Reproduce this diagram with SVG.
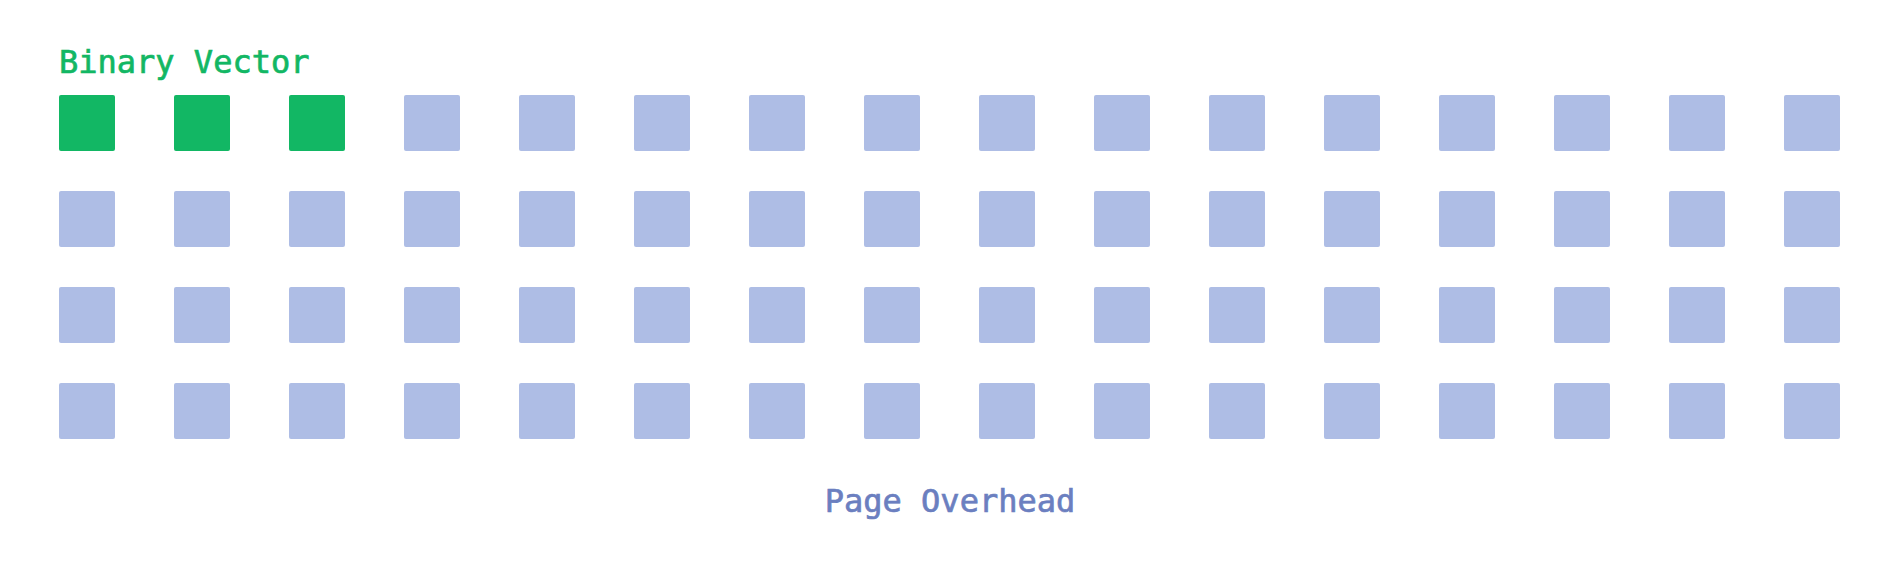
<svg xmlns="http://www.w3.org/2000/svg" width="1899" height="573" viewBox="0 0 1899 573">
<defs>
<style>
.lbl{font-family:"DejaVu Sans Mono","Liberation Mono",monospace;font-size:32px;stroke-width:0.7px}
.g{fill:#12b764}
.b{fill:#aebde5}
</style>
<rect id="sq" width="56" height="56" rx="2"/>
</defs>
<rect width="1899" height="573" fill="#ffffff"/>
<g id="title"><text class="lbl" x="59" y="73" fill="#12b764" stroke="#12b764">Binary Vector</text></g>
<g id="row1">
<use href="#sq" class="g" x="59" y="95"/><use href="#sq" class="g" x="174" y="95"/><use href="#sq" class="g" x="289" y="95"/>
<use href="#sq" class="b" x="404" y="95"/><use href="#sq" class="b" x="519" y="95"/><use href="#sq" class="b" x="634" y="95"/><use href="#sq" class="b" x="749" y="95"/><use href="#sq" class="b" x="864" y="95"/><use href="#sq" class="b" x="979" y="95"/><use href="#sq" class="b" x="1094" y="95"/><use href="#sq" class="b" x="1209" y="95"/><use href="#sq" class="b" x="1324" y="95"/><use href="#sq" class="b" x="1439" y="95"/><use href="#sq" class="b" x="1554" y="95"/><use href="#sq" class="b" x="1669" y="95"/><use href="#sq" class="b" x="1784" y="95"/>
</g>
<g id="row2">
<use href="#sq" class="b" x="59" y="191"/><use href="#sq" class="b" x="174" y="191"/><use href="#sq" class="b" x="289" y="191"/><use href="#sq" class="b" x="404" y="191"/><use href="#sq" class="b" x="519" y="191"/><use href="#sq" class="b" x="634" y="191"/><use href="#sq" class="b" x="749" y="191"/><use href="#sq" class="b" x="864" y="191"/><use href="#sq" class="b" x="979" y="191"/><use href="#sq" class="b" x="1094" y="191"/><use href="#sq" class="b" x="1209" y="191"/><use href="#sq" class="b" x="1324" y="191"/><use href="#sq" class="b" x="1439" y="191"/><use href="#sq" class="b" x="1554" y="191"/><use href="#sq" class="b" x="1669" y="191"/><use href="#sq" class="b" x="1784" y="191"/>
</g>
<g id="row3">
<use href="#sq" class="b" x="59" y="287"/><use href="#sq" class="b" x="174" y="287"/><use href="#sq" class="b" x="289" y="287"/><use href="#sq" class="b" x="404" y="287"/><use href="#sq" class="b" x="519" y="287"/><use href="#sq" class="b" x="634" y="287"/><use href="#sq" class="b" x="749" y="287"/><use href="#sq" class="b" x="864" y="287"/><use href="#sq" class="b" x="979" y="287"/><use href="#sq" class="b" x="1094" y="287"/><use href="#sq" class="b" x="1209" y="287"/><use href="#sq" class="b" x="1324" y="287"/><use href="#sq" class="b" x="1439" y="287"/><use href="#sq" class="b" x="1554" y="287"/><use href="#sq" class="b" x="1669" y="287"/><use href="#sq" class="b" x="1784" y="287"/>
</g>
<g id="row4">
<use href="#sq" class="b" x="59" y="383"/><use href="#sq" class="b" x="174" y="383"/><use href="#sq" class="b" x="289" y="383"/><use href="#sq" class="b" x="404" y="383"/><use href="#sq" class="b" x="519" y="383"/><use href="#sq" class="b" x="634" y="383"/><use href="#sq" class="b" x="749" y="383"/><use href="#sq" class="b" x="864" y="383"/><use href="#sq" class="b" x="979" y="383"/><use href="#sq" class="b" x="1094" y="383"/><use href="#sq" class="b" x="1209" y="383"/><use href="#sq" class="b" x="1324" y="383"/><use href="#sq" class="b" x="1439" y="383"/><use href="#sq" class="b" x="1554" y="383"/><use href="#sq" class="b" x="1669" y="383"/><use href="#sq" class="b" x="1784" y="383"/>
</g>
<g id="footer"><text class="lbl" x="950" y="512" text-anchor="middle" fill="#6b7fc0" stroke="#6b7fc0">Page Overhead</text></g>
</svg>
